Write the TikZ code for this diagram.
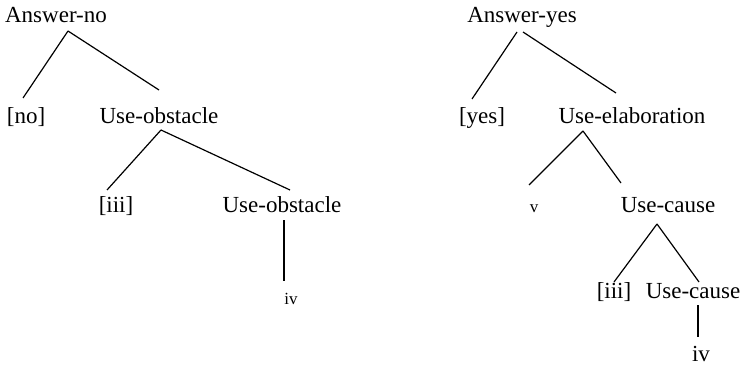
\documentclass[tikz,border=0pt]{standalone}
\usepackage{fontspec}
\setmainfont{Liberation Serif}
\usetikzlibrary{calc}

\begin{document}
\begin{tikzpicture}[
    x=0.5pt, y=-0.5pt,
    font=\fontsize{11.5}{13}\selectfont,
    lbl/.style={anchor=base, inner sep=0},
    small/.style={lbl, font=\fontsize{8.5}{10}\selectfont},
    branch/.style={line width=0.6pt}
]
\useasboundingbox (0,0) rectangle (748,369);

% ============================================
% ARBOL ANSWER-NO
% ============================================

\node[lbl] (ansno) at (56, 23) {Answer-no};
\node[lbl] (no)    at (26, 123) {[no]};
\node[lbl] (uobsa) at (159, 123) {Use-obstacle};
\node[lbl] (iiia)  at (116, 212) {[iii]};
\node[lbl] (uobsb) at (282, 212) {Use-obstacle};
\node[small] (iva) at (291, 304) {iv};

\draw[branch] ($(ansno.base)+(12,8)$) -- ($(no.base)+(-3,-25)$);
\draw[branch] ($(ansno.base)+(12,8)$) -- ($(uobsa.base)+(0,-33)$);
\draw[branch] ($(uobsa.base)+(2,7)$) -- ($(iiia.base)+(-9,-22)$);
\draw[branch] ($(uobsa.base)+(2,7)$) -- ($(uobsb.base)+(8,-22)$);
\draw[branch] ($(uobsb.base)+(2,8)$) -- ($(iva.base)+(-7,-23)$);

% ============================================
% ARBOL ANSWER-YES
% ============================================

\node[lbl] (ansyes) at (522, 23) {Answer-yes};
\node[lbl] (yes)    at (482, 123) {[yes]};
\node[lbl] (uelab)  at (632, 123) {Use-elaboration};
\node[small] (v)    at (534, 212) {v};
\node[lbl] (ucausa) at (668, 212) {Use-cause};
\node[lbl] (iiib)   at (614, 298) {[iii]};
\node[lbl] (ucausb) at (693, 298) {Use-cause};
\node[lbl] (ivb)    at (701, 361) {iv};

\draw[branch] ($(ansyes.base)+(-5,9)$) -- ($(yes.base)+(-10,-24)$);
\draw[branch] ($(ansyes.base)+(1,9)$) -- ($(uelab.base)+(-16,-30)$);
\draw[branch] ($(uelab.base)+(-49,8)$) -- ($(v.base)+(-5,-27)$);
\draw[branch] ($(uelab.base)+(-49,8)$) -- ($(ucausa.base)+(-47,-29)$);
\draw[branch] ($(ucausa.base)+(-11,12)$) -- ($(iiib.base)+(0,-16)$);
\draw[branch] ($(ucausa.base)+(-11,12)$) -- ($(ucausb.base)+(6,-16)$);
\draw[branch] ($(ucausb.base)+(5,7)$) -- ($(ivb.base)+(-3,-24)$);

\end{tikzpicture}
\end{document}
